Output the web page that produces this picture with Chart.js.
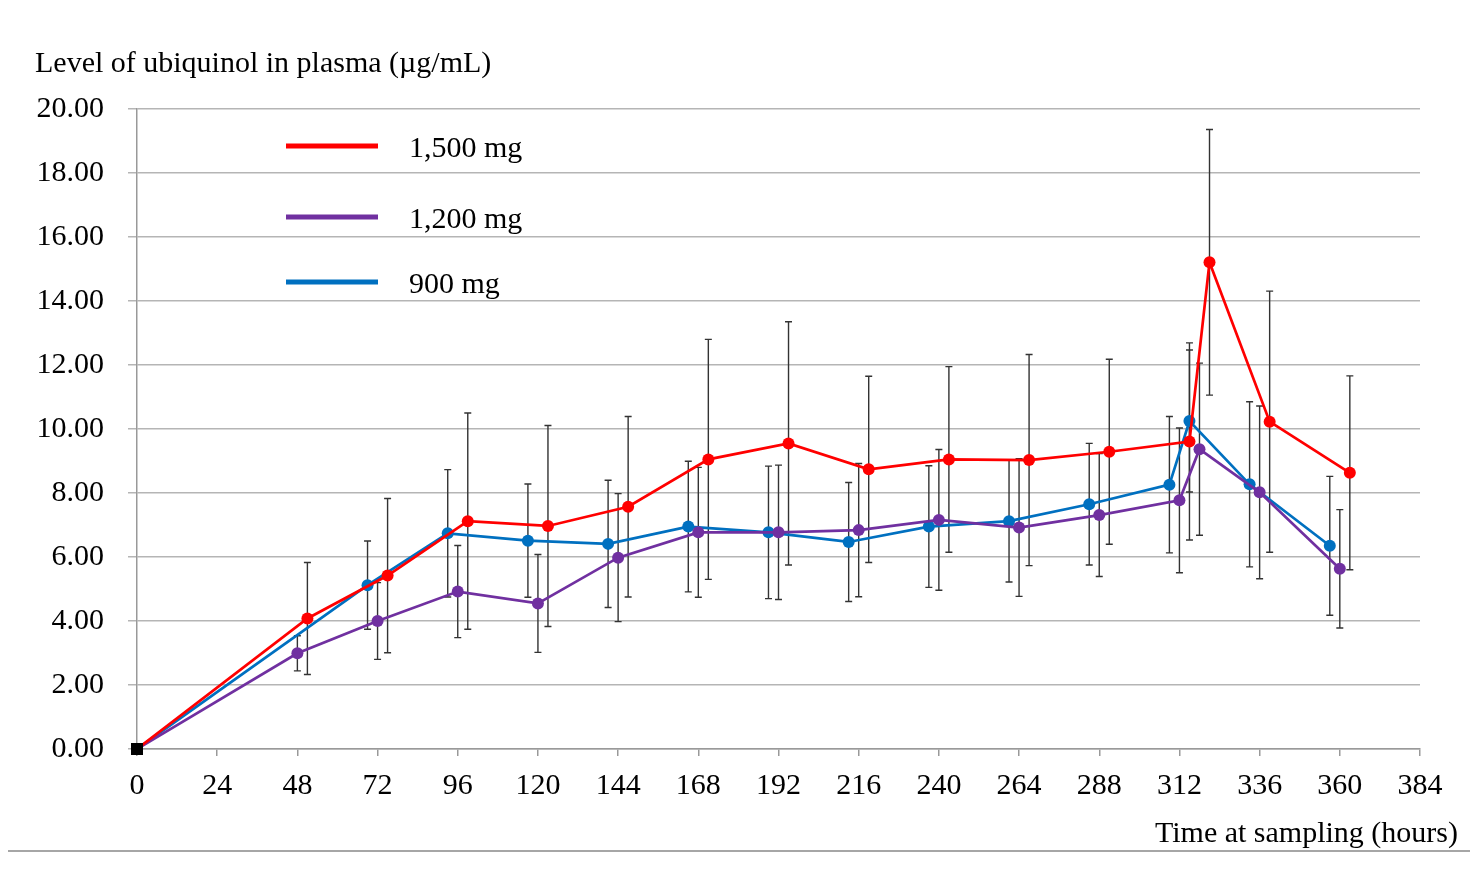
<!DOCTYPE html>
<html><head><meta charset="utf-8">
<script src="https://cdn.jsdelivr.net/npm/chart.js@4/dist/chart.umd.min.js"></script>
<style>html,body{margin:0;padding:0;background:#fff;}</style>
</head><body>
<canvas id="c" width="1476" height="874"></canvas>
<script>
// ---- data ----
const seriesNames = ['1,500 mg', '1,200 mg', '900 mg'];
const times1500 = [0, 51, 75, 99, 123, 147, 171, 195, 219, 243, 267, 291, 315, 321, 339, 363];
const mean1500  = [0, 4.08, 5.42, 7.12, 6.97, 7.57, 9.05, 9.55, 8.74, 9.05, 9.03, 9.29, 9.61, 15.21, 10.23, 8.63];
const sd1500    = [0, 1.75, 2.41, 3.38, 3.14, 2.82, 3.75, 3.80, 2.91, 2.90, 3.30, 2.89, 3.08, 4.15, 4.08, 3.03];
const times1200 = [0, 48, 72, 96, 120, 144, 168, 192, 216, 240, 264, 288, 312, 318, 336, 360];
const mean1200  = [0, 2.99, 4.00, 4.92, 4.55, 5.98, 6.77, 6.77, 6.84, 7.16, 6.92, 7.31, 7.77, 9.37, 8.02, 5.63];
const sd1200    = [0, 0.55, 1.20, 1.44, 1.53, 2.00, 2.03, 2.10, 2.08, 2.20, 2.15, 1.92, 2.26, 2.69, 2.70, 1.85];
const times900  = [0, 69, 93, 117, 141, 165, 189, 213, 237, 261, 285, 309, 315, 333, 357];
const mean900   = [0, 5.12, 6.74, 6.51, 6.41, 6.95, 6.77, 6.47, 6.95, 7.12, 7.65, 8.26, 10.25, 8.27, 6.35];
const sd900     = [0, 1.38, 1.99, 1.77, 1.99, 2.04, 2.07, 1.86, 1.90, 1.90, 1.90, 2.13, 2.22, 2.58, 2.17];
const xTicks = [0, 24, 48, 72, 96, 120, 144, 168, 192, 216, 240, 264, 288, 312, 336, 360, 384];
const yTicks = [0, 2, 4, 6, 8, 10, 12, 14, 16, 18, 20];
const yTitle = 'Level of ubiquinol in plasma (µg/mL)';
const xTitle = 'Time at sampling (hours)';

const colors = ['#FF0000', '#7030A0', '#0070C0'];
const FONT = "'Liberation Serif', 'Times New Roman', serif";
const FSIZE = 30;

function pts(t, m) { return t.map((x, i) => ({x: x, y: m[i]})); }
const series = [
  {t: times1500, m: mean1500, sd: sd1500},
  {t: times1200, m: mean1200, sd: sd1200},
  {t: times900,  m: mean900,  sd: sd900}
];

const datasets = [
  {label: 'origin', data: [{x: 0, y: 0}], pointStyle: 'rect', pointRadius: 8.5, pointHoverRadius: 8.5, pointBorderWidth: 0, backgroundColor: '#000', borderColor: '#000', showLine: false, clip: false},
];
series.forEach((s, i) => {
  datasets.push({
    label: seriesNames[i], data: pts(s.t, s.m), borderColor: colors[i], backgroundColor: colors[i],
    borderWidth: 2.7, pointHoverRadius: 6, pointBorderWidth: 0, tension: 0,
    pointRadius: s.t.map(x => x === 0 ? 0 : 6)
  });
});

const errorBars = {
  id: 'errorBars',
  beforeDatasetsDraw(chart) {
    const {ctx, scales: {x, y}} = chart;
    ctx.save();
    ctx.strokeStyle = '#333';
    ctx.lineWidth = 1.4;
    series.forEach(s => {
      s.t.forEach((t, i) => {
        if (!s.sd[i]) return;
        const px = x.getPixelForValue(t);
        const yt = y.getPixelForValue(s.m[i] + s.sd[i]);
        const yb = y.getPixelForValue(s.m[i] - s.sd[i]);
        ctx.beginPath();
        ctx.moveTo(px, yt); ctx.lineTo(px, yb);
        ctx.moveTo(px - 3.5, yt); ctx.lineTo(px + 3.5, yt);
        ctx.moveTo(px - 3.5, yb); ctx.lineTo(px + 3.5, yb);
        ctx.stroke();
      });
    });
    ctx.restore();
  }
};

const decorations = {
  id: 'decorations',
  afterDraw(chart) {
    const ctx = chart.ctx;
    ctx.save();
    ctx.fillStyle = '#000';
    ctx.font = FSIZE + 'px ' + FONT;
    ctx.textBaseline = 'middle';
    ctx.textAlign = 'left';
    ctx.fillText(yTitle, 35, 64);
    ctx.textAlign = 'right';
    ctx.fillText(xTitle, 1458, 834);
    // legend
    const ly = [146, 217, 282];
    ctx.textAlign = 'left';
    seriesNames.forEach((n, i) => {
      ctx.strokeStyle = colors[i];
      ctx.lineWidth = 5;
      ctx.beginPath(); ctx.moveTo(286, ly[i]); ctx.lineTo(378, ly[i]); ctx.stroke();
      ctx.fillText(n, 409, ly[i] + 3);
    });
    // bottom separator
    ctx.strokeStyle = '#888';
    ctx.lineWidth = 1.5;
    ctx.beginPath(); ctx.moveTo(8, 851); ctx.lineTo(1470, 851); ctx.stroke();
    ctx.restore();
  }
};

new Chart(document.getElementById('c').getContext('2d'), {
  type: 'line',
  data: {datasets: datasets},
  options: {
    responsive: false, animation: false, devicePixelRatio: 1,
    layout: {padding: {left: 0, right: 56, top: 109, bottom: 0}},
    scales: {
      x: {
        type: 'linear', min: 0, max: 384,
        afterBuildTicks: s => { s.ticks = xTicks.map(v => ({value: v})); },
        ticks: {font: {family: FONT, size: FSIZE}, color: '#000', padding: 12, maxRotation: 0, autoSkip: false},
        grid: {drawOnChartArea: false, drawTicks: true, tickLength: 7, color: '#999', lineWidth: 1.5},
        border: {color: '#999', width: 1.5},
        afterFit: s => { s.height = 125; }
      },
      y: {
        type: 'linear', min: 0, max: 20,
        afterBuildTicks: s => { s.ticks = yTicks.map(v => ({value: v})); },
        ticks: {font: {family: FONT, size: FSIZE}, color: '#000', padding: 24, callback: v => Number(v).toFixed(2)},
        grid: {color: '#b5b5b5', lineWidth: 1.5, tickLength: 9},
        border: {color: '#999', width: 1.5},
        afterFit: s => { s.width = 137; }
      }
    },
    plugins: {legend: {display: false}, tooltip: {enabled: false}}
  },
  plugins: [errorBars, decorations]
});
</script>
</body></html>
